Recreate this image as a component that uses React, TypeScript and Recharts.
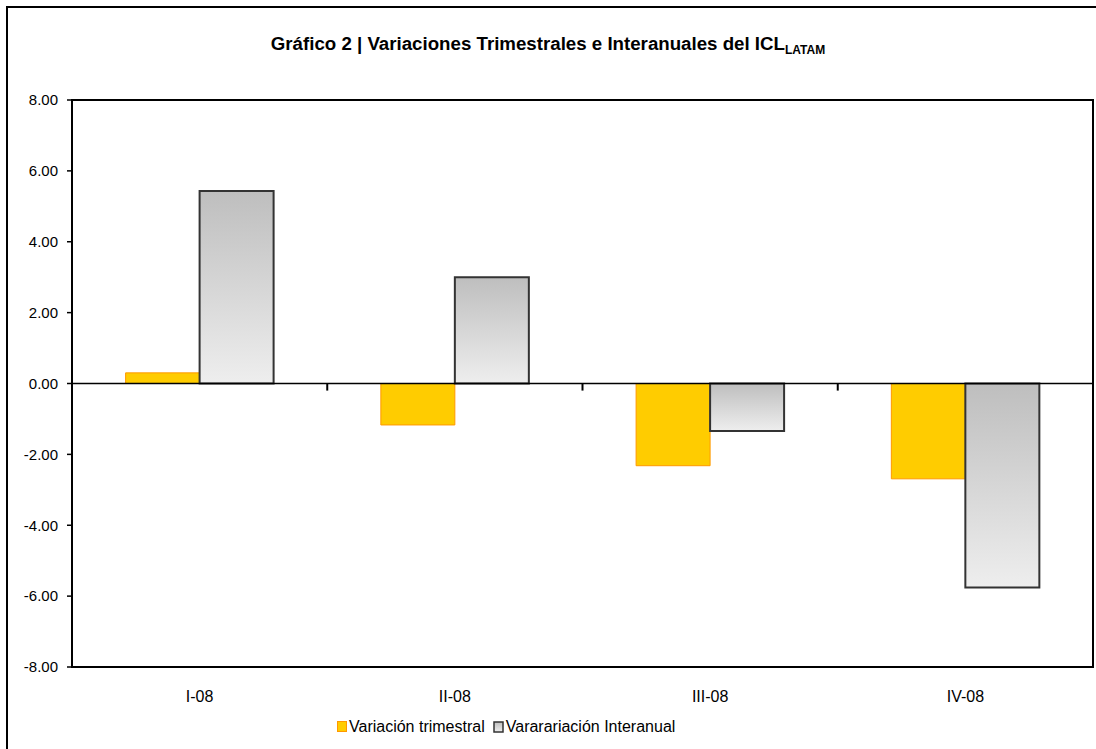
import { Bar, BarChart, Legend, ReferenceArea, ReferenceLine, XAxis, YAxis } from "recharts"

const categories = ["I-08", "II-08", "III-08", "IV-08"]
const trimestral = [0.3, -1.17, -2.32, -2.69]
const interanual = [5.43, 3.0, -1.34, -5.76]
const yTicks = [-8, -6, -4, -2, 0, 2, 4, 6, 8]
const seriesNames = ["Variación trimestral", "Vararariación Interanual"]

const data = categories.map((name, i) => ({
  name,
  trimestral: trimestral[i],
  interanual: interanual[i],
}))

const font = "'Liberation Sans', Arial, sans-serif"

function LegendContent() {
  return (
    <div
      style={{
        display: "flex",
        alignItems: "center",
        fontFamily: font,
        fontSize: 16,
        color: "#000",
        whiteSpace: "nowrap",
        height: 30,
      }}
    >
      <svg width={11} height={12}>
        <rect x={0.5} y={0.5} width={9} height={10} fill="#ffcc00" stroke="#ff9900" />
      </svg>
      <span style={{ marginLeft: 1 }}>{seriesNames[0]}</span>
      <svg width={11} height={12} style={{ marginLeft: 8 }}>
        <defs>
          <linearGradient id="legendGrey" x1="0" y1="0" x2="0" y2="1">
            <stop offset="0" stopColor="#bebebe" />
            <stop offset="1" stopColor="#eeeeee" />
          </linearGradient>
        </defs>
        <rect x={1} y={1} width={9} height={10} fill="url(#legendGrey)" stroke="#333" strokeWidth={1.5} />
      </svg>
      <span style={{ marginLeft: 2 }}>{seriesNames[1]}</span>
    </div>
  )
}

export default function App() {
  return (
    <div
      style={{
        position: "absolute",
        left: 0,
        top: 0,
        width: 1096,
        height: 749,
        overflow: "hidden",
        background: "#fff",
        fontFamily: font,
      }}
    >
      <div
        style={{
          position: "absolute",
          left: 6,
          top: 6,
          width: 1200,
          height: 900,
          border: "2px solid #000",
        }}
      />
      <div
        style={{
          position: "absolute",
          left: 0,
          top: 34,
          width: 1096,
          textAlign: "center",
          fontSize: 18.7,
          fontWeight: "bold",
          lineHeight: "20px",
          color: "#000",
        }}
      >
        Gráfico 2 | Variaciones Trimestrales e Interanuales del ICL
        <span style={{ fontSize: 12, position: "relative", top: 4 }}>LATAM</span>
      </div>
      <div style={{ position: "absolute", left: 0, top: 0 }}>
        <BarChart
          width={1096}
          height={749}
          data={data}
          margin={{ top: 100, right: 3, bottom: 7, left: 0 }}
          barCategoryGap="21%"
          barGap={0}
        >
          <defs>
            <linearGradient id="greyFill" x1="0" y1="0" x2="0" y2="1">
              <stop offset="0" stopColor="#bebebe" />
              <stop offset="1" stopColor="#eeeeee" />
            </linearGradient>
          </defs>
          <XAxis
            dataKey="name"
            height={45}
            axisLine={{ stroke: "#000", strokeWidth: 2 }}
            tickLine={false}
            tick={{ fill: "#000", fontSize: 16, fontFamily: font }}
            tickMargin={18}
          />
          <YAxis
            domain={[-8, 8]}
            ticks={yTicks}
            width={72}
            interval={0}
            axisLine={{ stroke: "#000", strokeWidth: 2 }}
            tickLine={{ stroke: "#000", strokeWidth: 1.5 }}
            tickSize={5}
            tickMargin={9}
            tick={{ fill: "#000", fontSize: 15, fontFamily: font }}
            tickFormatter={(value: number) => value.toFixed(2)}
          />
          <ReferenceArea
            x1={categories[0]}
            x2={categories[categories.length - 1]}
            y1={-8}
            y2={8}
            fill="none"
            fillOpacity={0}
            stroke="#000"
            strokeWidth={2}
            ifOverflow="visible"
          />
          <Bar
            dataKey="trimestral"
            name={seriesNames[0]}
            fill="#ffcc00"
            stroke="#ff9900"
            strokeWidth={1}
            isAnimationActive={false}
          />
          <Bar
            dataKey="interanual"
            name={seriesNames[1]}
            fill="url(#greyFill)"
            stroke="#333"
            strokeWidth={2}
            isAnimationActive={false}
          />
          <ReferenceLine y={0} stroke="#000" strokeWidth={1.5} />
          {categories.slice(1).map((c) => (
            <ReferenceLine
              key={c}
              position="start"
              segment={[
                { x: c, y: 0 },
                { x: c, y: -0.2 },
              ]}
              stroke="#000"
              strokeWidth={2}
            />
          ))}
          <Legend
            verticalAlign="bottom"
            height={30}
            content={LegendContent}
            wrapperStyle={{ left: 337, width: 420 }}
          />
        </BarChart>
      </div>
    </div>
  )
}
